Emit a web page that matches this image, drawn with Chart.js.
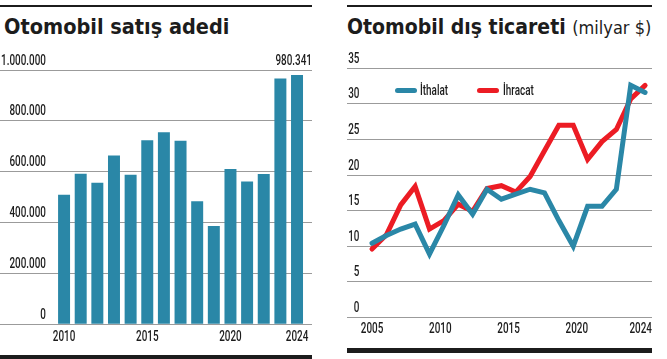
<!DOCTYPE html>
<html>
<head>
<meta charset="utf-8">
<script src="https://cdn.jsdelivr.net/npm/chart.js@4.4.1/dist/chart.umd.min.js"></script>
<style>
  html,body{margin:0;padding:0;background:#fff;}
  #wrap{position:relative;width:667px;height:359px;overflow:hidden;background:#fff;}
  .abs{position:absolute;}
  .rule{position:absolute;background:#1c1c1c;}
  .title{position:absolute;white-space:nowrap;color:#1c1c1c;font-family:"DejaVu Sans Condensed","DejaVu Sans",sans-serif;font-weight:bold;line-height:26px;}
  .title .unit{font-weight:normal;font-size:18px;}
  .leg{position:absolute;white-space:nowrap;font-family:Roboto,sans-serif;font-weight:500;font-size:15px;color:#1c1c1c;line-height:16px;transform:scaleX(0.66);transform-origin:0 50%;}
  .sw{position:absolute;height:5px;border-radius:3px;}
</style>
</head>
<body>
<div id="wrap">
  <div class="rule" style="left:0;top:5px;width:312px;height:2px"></div>
  <div class="rule" style="left:347px;top:5px;width:305px;height:2px"></div>
  <div class="title" style="left:4px;top:14px;font-size:21.5px">Otomobil satış adedi</div>
  <div class="title" style="left:347px;top:14px;font-size:21px">Otomobil dış ticareti <span class="unit">(milyar $)</span></div>
  <canvas id="c1" class="abs" width="312" height="359" style="left:0;top:0"></canvas>
  <canvas id="c2" class="abs" width="320" height="359" style="left:340px;top:0"></canvas>
  <div class="rule" style="left:0;top:355px;width:312px;height:4px"></div>
  <div class="rule" style="left:347px;top:348px;width:305px;height:5px"></div>
  <div class="sw" style="left:395px;top:88px;width:22px;background:#2a87a7"></div>
  <div class="leg" style="left:420px;top:82px">İthalat</div>
  <div class="sw" style="left:477px;top:88px;width:22px;background:#ec1c24"></div>
  <div class="leg" style="left:503px;top:82px">İhracat</div>
</div>
<script>
// ---- data ----
const salesYears = [2010,2011,2012,2013,2014,2015,2016,2017,2018,2019,2020,2021,2022,2023,2024];
const salesValues = [509000,592000,557000,664000,588000,724000,755000,722000,484000,387000,611000,562000,591000,967000,980341];
const salesTickLabels = ['2010','2015','2020','2024'];
const salesYTicks = [0,200000,400000,600000,800000,1000000];

const tradeYears = [2005,2006,2007,2008,2009,2010,2011,2012,2013,2014,2015,2016,2017,2018,2019,2020,2021,2022,2023,2024];
const importValues = [10.4,11.5,12.4,13.1,8.9,12.9,17.2,14.5,18.0,16.6,17.3,18.0,17.5,13.6,10.0,15.6,15.6,18.0,32.6,31.6];
const exportValues = [9.6,11.6,15.8,18.4,12.4,13.6,15.9,14.9,18.1,18.5,17.6,19.8,23.4,27.0,27.0,22.2,24.7,26.4,30.7,32.6];
const tradeTickLabels = ['2005','2010','2015','2020','2024'];
const tradeYTicks = [0,5,10,15,20,25,30,35];

// ---- helpers ----
const TEAL = '#2a87a7', RED = '#ec1c24', GRID = '#9b9b9b', INK = '#1c1c1c';
const LABEL_FONT = '500 15px Roboto, sans-serif';
const SQ = 0.66;
function fmt(v){ return String(Math.round(v)).replace(/\B(?=(\d{3})+(?!\d))/g,'.'); }
function sqText(ctx, text, x, y, align){
  ctx.save(); ctx.translate(x, y); ctx.scale(SQ, 1);
  ctx.textAlign = align; ctx.fillText(text, 0, 0); ctx.restore();
}

const axisLabelPlugin = {
  id:'axisLabels',
  afterDraw(chart, args, o){
    const ys = chart.scales.y, xs = chart.scales.x, ctx = chart.ctx, ca = chart.chartArea;
    ctx.save();
    ctx.font = LABEL_FONT;
    ctx.fillStyle = INK;
    ctx.textBaseline = 'alphabetic';
    ys.ticks.forEach(t=>{
      sqText(ctx, fmt(t.value), ca.left + o.yx, ys.getPixelForValue(t.value) - 5.5, 'right');
    });
    if (o.topLabel !== undefined){
      sqText(ctx, fmt(o.topLabel), ca.right, ys.getPixelForValue(ys.max) - 5.5, 'right');
    }
    xs.ticks.forEach((t,i)=>{
      const txt = o.xLabels[i];
      const w = ctx.measureText(txt).width * SQ;
      let x = xs.getPixelForValue(t.value);
      x = Math.min(x, ca.right - w/2);
      sqText(ctx, txt, x, ca.bottom + o.xy, 'center');
    });
    ctx.restore();
  }
};

Chart.defaults.font.family = 'Roboto, sans-serif';
Chart.defaults.color = INK;
Chart.defaults.animation = false;

// ---- left: bar chart ----
new Chart(document.getElementById('c1'), {
  type:'bar',
  data:{ datasets:[{
    data: salesYears.map((y,i)=>({x:y, y:salesValues[i]})),
    backgroundColor: TEAL,
    categoryPercentage:0.8, barPercentage:0.9
  }]},
  options:{
    responsive:false,
    layout:{padding:{top:70,bottom:26.7,left:0,right:0}},
    plugins:{legend:{display:false},tooltip:{enabled:false},
      axisLabels:{yx:46, xy:16.7, xLabels:salesTickLabels, topLabel: salesValues[salesValues.length-1]}},
    scales:{
      x:{type:'linear', offset:false, min: salesYears[0]-3.85, max: salesYears[salesYears.length-1]+0.9,
        grid:{display:false, offset:false}, border:{display:false},
        afterBuildTicks(scale){ scale.ticks = salesTickLabels.map(l=>({value:Number(l)})); },
        ticks:{display:false}},
      y:{min:0, max:1000000,
        afterBuildTicks(scale){ scale.ticks = salesYTicks.map(v=>({value:v})); },
        grid:{color:GRID, lineWidth:1, drawTicks:false}, border:{display:false},
        ticks:{display:false}}
    }
  },
  plugins:[axisLabelPlugin]
});

// ---- right: line chart ----
new Chart(document.getElementById('c2'), {
  type:'line',
  data:{ datasets:[
    {label:'İthalat', data: tradeYears.map((y,i)=>({x:y,y:importValues[i]})), borderColor:TEAL, borderWidth:5, pointRadius:0, tension:0, borderCapStyle:'round', fill:false},
    {label:'İhracat', data: tradeYears.map((y,i)=>({x:y,y:exportValues[i]})), borderColor:RED, borderWidth:5, pointRadius:0, tension:0, borderCapStyle:'round', fill:false}
  ]},
  options:{
    responsive:false,
    layout:{padding:{top:68.3,bottom:33.7,left:7,right:8}},
    plugins:{legend:{display:false},tooltip:{enabled:false},
      axisLabels:{yx:12.5, xy:15.7, xLabels:tradeTickLabels}},
    scales:{
      x:{type:'linear', offset:false, min: tradeYears[0]-1.74, max: tradeYears[tradeYears.length-1]+0.48,
        grid:{display:false}, border:{display:false},
        afterBuildTicks(scale){
          const a = tradeYears[0], b = tradeYears[tradeYears.length-1], n = tradeTickLabels.length;
          scale.ticks = tradeTickLabels.map((l,i)=>({value: a + i*(b-a)/(n-1)}));
        },
        ticks:{display:false}},
      y:{min:0, max:35,
        afterBuildTicks(scale){ scale.ticks = tradeYTicks.map(v=>({value:v})); },
        grid:{color:GRID, lineWidth:1, drawTicks:false}, border:{display:false},
        ticks:{display:false}}
    }
  },
  plugins:[axisLabelPlugin]
});
</script>
</body>
</html>
